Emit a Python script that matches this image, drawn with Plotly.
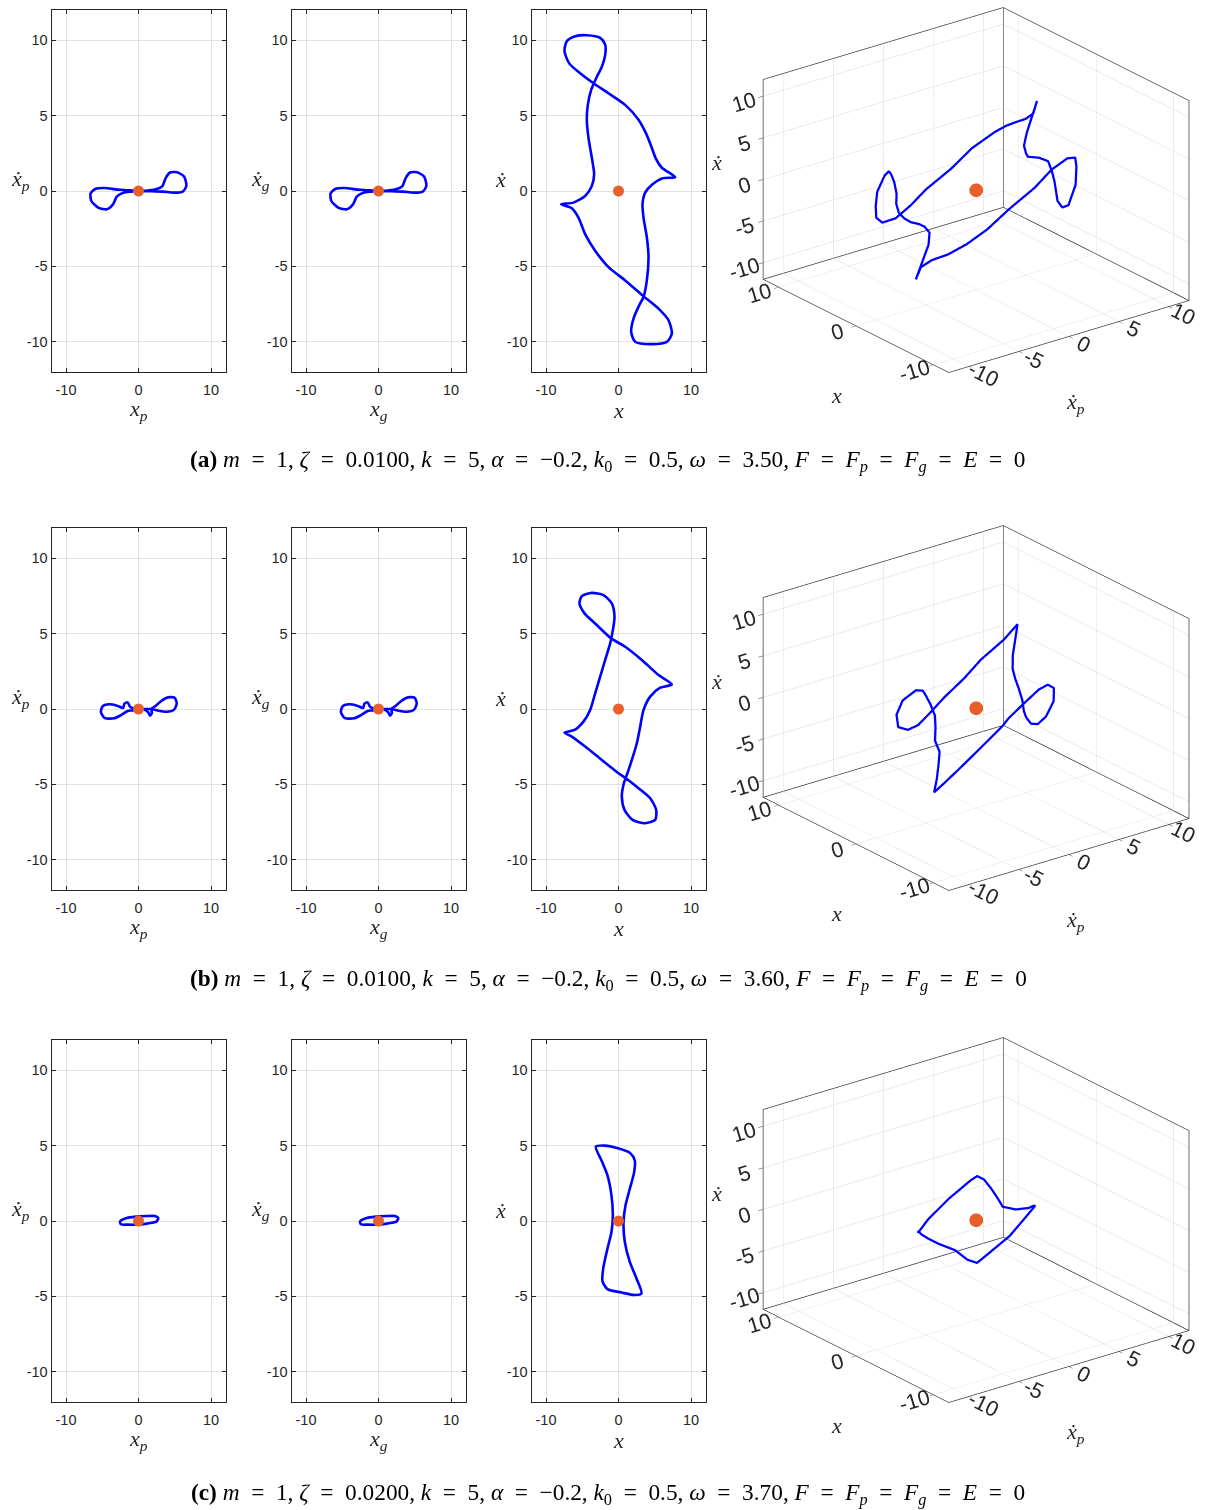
import plotly.graph_objects as go

W, H = 1211, 1510

# ---------------- (a)  omega = 3.50 ----------------
a_x = [7.82, 5.98, 5.15, 4.51, 3.77, 2.76, 0.92, -1.38, -3.45, -5.29, -6.80, -7.45, -7.13, -5.98,
       -4.37, -2.53, -1.84, -1.84, -2.30, -3.13, -3.77, -4.23, -4.37, -4.14, -3.68, -3.36, -3.68,
       -4.60, -6.21, -7.91, -6.44, -5.52, -4.60, -3.22, -1.38, 0.92, 3.31, 5.52, 6.90, 7.36, 6.67,
       4.60, 2.30, 1.75, 2.07, 2.85, 3.45, 3.91, 4.14, 3.91, 3.45, 3.31, 3.68, 4.69, 6.07]
a_xd = [0.92, 1.54, 2.15, 2.97, 3.85, 4.73, 5.71, 6.48, 7.14, 7.80, 8.46, 9.27, 9.93, 10.26,
        10.33, 10.15, 9.71, 9.01, 8.24, 7.43, 6.70, 5.71, 4.73, 3.52, 2.20, 1.10, 0.33,
        -0.33, -0.77, -0.88, -1.14, -1.76, -2.86, -3.96, -5.05, -5.93, -6.92, -7.80, -8.57, -9.45, -10.0,
        -10.15, -10.0, -9.34, -8.46, -7.58, -7.03, -5.93, -4.40, -3.08, -1.76, -0.88, -0.11, 0.44, 0.84]
a_q = [6.8, 6.9, 6.6, 6.3, 6.0, 5.5, 4.0, 2.5, 0.5, -0.5, -1.5, -2.2, -2.3, -2.1,
       -1.9, -1.3, -1.2, -1.5, -1.8, -2.2, -2.8, -3.3, -3.5, -3.8, -4.0, -4.3, -4.4,
       -5.0, -6.0, -6.7, -6.4, -5.8, -5.0, -4.0, -2.8, -1.3, 0.5, 1.5, 2.5, 2.6, 2.3,
       2.1, 1.5, 1.4, 1.6, 2.1, 2.4, 3.0, 3.8, 3.9, 3.8, 4.3, 4.7, 5.4, 6.2]
a_xp = [0, -1.9, -3.2, -4.6, -5.9, -6.6, -6.5, -5.5, -4.35, -3.5, -3.0, -2.1, -1.0, 0,
        1.0, 2.4, 3.3, 3.7, 4.3, 5.3, 6.3, 6.6, 6.1, 4.8, 3.5, 1.9, 0]
a_xpd = [0, 0.07, 0.11, 0.20, 0.15, -0.15, -0.66, -1.12, -1.21, -0.88, -0.37, -0.11, -0.04, 0,
         0.02, 0.11, 0.33, 0.81, 1.21, 1.25, 0.95, 0.33, -0.04, -0.11, -0.04, -0.02, 0]
a_xg = [0, -1.9, -3.2, -4.6, -5.9, -6.6, -6.5, -5.5, -4.35, -3.5, -3.0, -2.1, -1.0, 0,
        1.0, 2.4, 3.3, 3.7, 4.3, 5.3, 6.3, 6.6, 6.1, 4.8, 3.5, 1.9, 0]
a_xgd = [0, 0.07, 0.11, 0.20, 0.15, -0.15, -0.66, -1.12, -1.21, -0.88, -0.37, -0.11, -0.04, 0,
         0.02, 0.11, 0.33, 0.81, 1.21, 1.25, 0.95, 0.33, -0.04, -0.11, -0.04, -0.02, 0]

# ---------------- (b)  omega = 3.60 ----------------
b_x = [7.36, 5.52, 3.22, 0.92, -1.01, -3.22, -4.69, -5.38, -5.06, -3.68, -2.07, -0.92, -0.55, -0.78,
       -1.15, -1.84, -2.53, -3.22, -3.91, -4.83, -6.07, -7.45, -6.44, -4.60, -2.30, 0.00, 1.01, 2.76,
       4.37, 5.20, 5.06, 3.68, 1.93, 0.83, 0.46, 0.74, 1.15, 1.84, 2.53, 2.99, 3.45, 4.37, 5.75]
b_xd = [1.63, 2.25, 3.25, 4.13, 4.68, 5.67, 6.34, 7.00, 7.48, 7.70, 7.55, 7.00, 6.11, 5.23,
        4.35, 3.25, 2.14, 1.04, -0.07, -0.84, -1.39, -1.57, -1.83, -2.49, -3.38, -4.26, -4.59, -5.25,
        -5.92, -6.69, -7.35, -7.57, -7.35, -6.69, -5.81, -4.92, -4.37, -3.38, -2.27, -1.17, -0.07, 0.82, 1.41]
b_q = [5.4, 4.5, 3.0, 2.0, 0.5, -0.3, -0.9, -1.4, -2.0, -2.0, -1.5, -0.6, -0.6, -0.9,
       -1.2, -1.6, -2.4, -3.3, -3.7, -4.4, -5.0, -5.4, -4.5, -3.3, -2.0, -0.7, -0.3, 0.75,
       1.7, 2.0, 2.1, 1.9, 1.3, 1.0, 1.0, 1.2, 1.4, 2.0, 2.5, 3.0, 3.6, 4.3, 5.0]
b_xp = [0, -1.13, -1.49, -1.94, -2.12, -2.93, -4.05, -4.95, -5.18, -4.64, -3.38, -2.39, -1.49, -0.77, 0,
        0.77, 1.35, 1.58, 1.85, 1.76, 2.39, 3.15, 4.05, 4.95, 5.27, 4.91, 3.83, 2.57, 1.58, 0]
b_xpd = [0, 0.13, 0.44, 0.35, 0.07, 0.22, 0.31, 0.18, -0.22, -0.60, -0.62, -0.40, -0.13, -0.09, 0,
         -0.04, -0.22, -0.44, -0.26, 0, 0.22, 0.53, 0.77, 0.75, 0.40, -0.04, -0.18, -0.09, 0, 0]
b_xg = [0, -1.13, -1.49, -1.94, -2.12, -2.93, -4.05, -4.95, -5.18, -4.64, -3.38, -2.39, -1.49, -0.77, 0,
        0.77, 1.35, 1.58, 1.85, 1.76, 2.39, 3.15, 4.05, 4.95, 5.27, 4.91, 3.83, 2.57, 1.58, 0]
b_xgd = [0, 0.13, 0.44, 0.35, 0.07, 0.22, 0.31, 0.18, -0.22, -0.60, -0.62, -0.40, -0.13, -0.09, 0,
         -0.04, -0.22, -0.44, -0.26, 0, 0.22, 0.53, 0.77, 0.75, 0.40, -0.04, -0.18, -0.09, 0, 0]

# ---------------- (c)  omega = 3.70 ----------------
c_x = [-3.13, -1.89, -0.05, 1.56, 2.25, 2.16, 1.56, 0.97, 0.69, 0.87, 1.56, 2.48,
       3.17, 2.25, 0.41, -1.52, -2.21, -2.11, -1.52, -0.97, -0.78, -0.97, -1.52, -2.34]
c_xd = [4.93, 5.00, 4.82, 4.52, 4.01, 3.24, 2.14, 1.04, -0.07, -1.39, -2.71, -3.81,
        -4.80, -4.91, -4.74, -4.52, -3.99, -3.15, -1.83, -0.73, 0.37, 1.70, 3.02, 4.01]
c_q = [-2.0, -0.9, 1.0, 2.9, 3.2, 3.3, 3.2, 3.0, 2.6, 2.9, 3.2, 2.7,
       2.2, 1.2, -0.3, -2.9, -3.0, -3.3, -3.5, -4.3, -4.5, -4.2, -3.4, -2.7]
c_xp = [-2.55, -1.73, -0.36, 1.23, 2.27, 2.73, 2.45, 1.45, 0, -1.5, -2.41, -2.55]
c_xpd = [-0.04, 0.18, 0.29, 0.33, 0.33, 0.18, -0.04, -0.15, -0.24, -0.24, -0.22, -0.04]
c_xg = [-2.55, -1.73, -0.36, 1.23, 2.27, 2.73, 2.45, 1.45, 0, -1.5, -2.41, -2.55]
c_xgd = [-0.04, 0.18, 0.29, 0.33, 0.33, 0.18, -0.04, -0.15, -0.24, -0.24, -0.22, -0.04]

# equilibrium point
eq = (0, 0)

EQ = "\u2002=\u2002"


def caption(tag, zeta, omega):
    return (f"<b>({tag})</b> <i>m</i>{EQ}1, <i>ζ</i>{EQ}{zeta}, <i>k</i>{EQ}5, <i>α</i>{EQ}−0.2, "
            f"<i>k</i><sub>0</sub>{EQ}0.5, <i>ω</i>{EQ}{omega}, <i>F</i>{EQ}<i>F<sub>p</sub></i>{EQ}"
            f"<i>F<sub>g</sub></i>{EQ}<i>E</i>{EQ}0")


captions = [caption("a", "0.0100", "3.50"), caption("b", "0.0100", "3.60"), caption("c", "0.0200", "3.70")]

rows = [
    dict(x=a_x, xd=a_xd, q=a_q, xp=a_xp, xpd=a_xpd, xg=a_xg, xgd=a_xgd),
    dict(x=b_x, xd=b_xd, q=b_q, xp=b_xp, xpd=b_xpd, xg=b_xg, xgd=b_xgd),
    dict(x=c_x, xd=c_xd, q=c_q, xp=c_xp, xpd=c_xpd, xg=c_xg, xgd=c_xgd),
]

# ---------------- layout geometry (pixels) ----------------
col_left = [51.5, 291.5, 531.5]
panel_w = 174
row_top = [10, 528, 1040]
panel_h = 362
cap_y = [461, 980, 1494]

TICK_FONT = dict(family="Liberation Sans, Arial, sans-serif", size=14.5, color="#262626")
TICK3_FONT = dict(family="Liberation Sans, Arial, sans-serif", size=16, color="#262626")
MATH_FONT = dict(family="Liberation Serif, DejaVu Serif, serif", size=22, color="#262626")
CAP_FONT = dict(family="Liberation Serif, DejaVu Serif, serif", size=23.3, color="black")
BLUE = "#0000FF"
ORANGE = "#E5602A"
EDGE = "#3a3a3a"
AX_RANGE = [-12, 12]

XT = [-10, 0, 10]
YT = [-10, -5, 0, 5, 10]


def lbl(v):
    return str(v)


def note(text, px, py, font):
    return dict(text=text, x=px / W, y=1 - py / H, xref="paper", yref="paper",
                xanchor="center", yanchor="middle", showarrow=False, font=font)


fig = go.Figure()
annotations = []
layout = {}

ylabels = ["<i>ẋ<sub>p</sub></i>", "<i>ẋ<sub>g</sub></i>", "<i>ẋ</i>"]
xlabels = ["<i>x<sub>p</sub></i>", "<i>x<sub>g</sub></i>", "<i>x</i>"]

lo, hi = AX_RANGE
# back edges of the 3-D box (corner column and the two rear floor edges)
box_x = [lo, hi, hi, None, hi, hi]
box_y = [hi, hi, lo, None, hi, hi]
box_z = [lo, lo, lo, None, lo, hi]

n = 0
for r, data in enumerate(rows):
    pairs = [(data["xp"], data["xpd"]), (data["xg"], data["xgd"]),
             (data["x"] + data["x"][:1], data["xd"] + data["xd"][:1])]
    for c in range(3):
        n += 1
        xa = "x" if n == 1 else f"x{n}"
        ya = "y" if n == 1 else f"y{n}"
        xs, ys = pairs[c]
        fig.add_trace(go.Scatter(x=xs, y=ys, mode="lines", xaxis=xa, yaxis=ya,
                                 line=dict(color=BLUE, width=2.6, shape="spline", smoothing=0.7),
                                 hoverinfo="skip", showlegend=False))
        fig.add_trace(go.Scatter(x=[eq[0]], y=[eq[1]], mode="markers", xaxis=xa, yaxis=ya,
                                 marker=dict(color=ORANGE, size=11),
                                 hoverinfo="skip", showlegend=False))
        x0 = col_left[c]
        y0 = row_top[r]
        common = dict(range=AX_RANGE, showline=True, linecolor="#262626", linewidth=1,
                      mirror="ticks", ticks="inside", ticklen=4, tickcolor="#262626",
                      showgrid=True, gridcolor="#e2e2e2", gridwidth=1, zeroline=False,
                      tickfont=TICK_FONT, fixedrange=True)
        layout["xaxis" if n == 1 else f"xaxis{n}"] = dict(
            common, domain=[x0 / W, (x0 + panel_w) / W], anchor=ya,
            tickvals=XT, ticktext=[lbl(v) for v in XT], ticklabelstandoff=5)
        layout["yaxis" if n == 1 else f"yaxis{n}"] = dict(
            common, domain=[1 - (y0 + panel_h) / H, 1 - y0 / H], anchor=xa,
            tickvals=YT, ticktext=[lbl(v) for v in YT])
        # axis titles
        annotations.append(note(xlabels[c], x0 + panel_w / 2, y0 + 400, MATH_FONT))
        annotations.append(note(ylabels[c], x0 - 31, y0 + 170, MATH_FONT))

    # 3-D view of the trajectory
    sname = f"scene{r + 1}" if r else "scene"
    fig.add_trace(go.Scatter3d(x=box_x, y=box_y, z=box_z, mode="lines", scene=sname,
                               line=dict(color=EDGE, width=1.5), hoverinfo="skip", showlegend=False))
    fig.add_trace(go.Scatter3d(x=data["q"] + data["q"][:1], y=data["xd"] + data["xd"][:1],
                               z=data["x"] + data["x"][:1], mode="lines", scene=sname,
                               line=dict(color=BLUE, width=4.5), hoverinfo="skip", showlegend=False))
    fig.add_trace(go.Scatter3d(x=[0], y=[0], z=[0], mode="markers", scene=sname,
                               marker=dict(color=ORANGE, size=8), hoverinfo="skip", showlegend=False))
    ax3 = dict(range=AX_RANGE, showbackground=True, backgroundcolor="white",
               gridcolor="#d9d9d9", gridwidth=1, showline=True, linecolor=EDGE, linewidth=1.5,
               mirror=True, ticks="outside", ticklen=6, tickcolor=EDGE, zeroline=False,
               showspikes=False, tickfont=TICK3_FONT, title=dict(text=""))
    y0 = row_top[r]
    layout[sname] = dict(
        domain=dict(x=[722 / W, 1.0], y=[1 - (y0 + 405) / H, 1 - (y0 - 8) / H]),
        xaxis=dict(ax3, tickvals=YT, ticktext=[lbl(v) for v in YT]),
        yaxis=dict(ax3, tickvals=XT, ticktext=[lbl(v) for v in XT]),
        zaxis=dict(ax3, tickvals=YT, ticktext=[lbl(v) for v in YT]),
        aspectmode="manual", aspectratio=dict(x=1.47, y=1.47, z=1.05),
        camera=dict(projection=dict(type="orthographic"), up=dict(x=0, y=0, z=1),
                    center=dict(x=-0.037, y=0.028, z=-0.097),
                    eye=dict(x=-0.836, y=-1.006, z=0.453)),
        bgcolor="white",
    )
    annotations.append(note("<i>x</i>", 836, y0 + 385, MATH_FONT))
    annotations.append(note("<i>ẋ<sub>p</sub></i>", 1075, y0 + 393, MATH_FONT))
    annotations.append(note("<i>ẋ</i>", 716, y0 + 153, MATH_FONT))
    annotations.append(note(captions[r], 608, cap_y[r], CAP_FONT))

fig.update_layout(width=W, height=H, margin=dict(l=0, r=0, t=0, b=0),
                  paper_bgcolor="white", plot_bgcolor="white", showlegend=False,
                  annotations=annotations, **layout)
fig.write_html("out.html", config=dict(displayModeBar=False))
